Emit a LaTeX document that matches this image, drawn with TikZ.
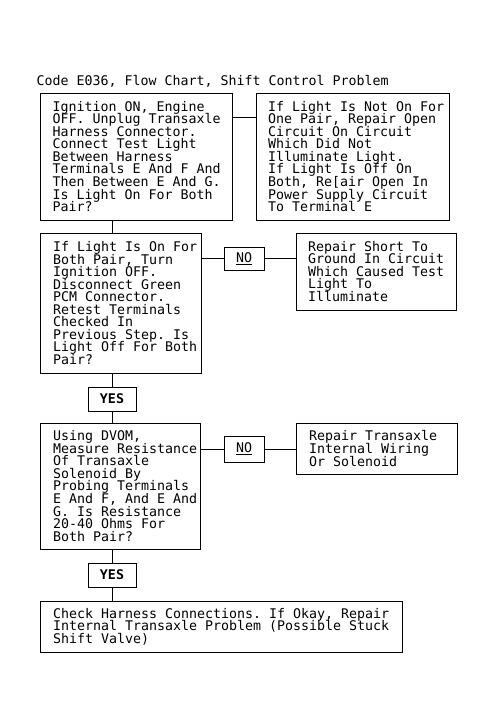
\documentclass[tikz,border=0pt]{standalone}
\usepackage{fontspec}
\setmainfont{DejaVu Sans Mono}
\usetikzlibrary{calc}
\frenchspacing
\newcommand\bxt[3]{\makebox[#1][l]{\hspace{#2}\parbox[c]{\dimexpr#1-#2\relax}{\raggedright\frenchspacing\lineskiplimit=-\maxdimen\baselineskip=9.4pt #3}}}
\begin{document}
\begin{tikzpicture}[x=0.75pt,y=-0.75pt,line width=0.75pt,
  every node/.style={font=\fontsize{9.97}{9.4}\selectfont},
  box/.style={draw,rectangle,inner sep=0pt},
  tag/.style={draw,rectangle,inner sep=0pt,minimum width=30pt},
  link/.style={draw,line width=0.75pt}]
\fill[white] (0,0) rectangle (495,728);
\useasboundingbox (0,0) rectangle (495,728);

\node[anchor=base west,inner sep=0pt] (title) at (36,85) {Code E036, Flow Chart, Shift Control Problem};

\node[box,minimum width=144pt,minimum height=95.25pt] (box1) at (136.5,156.5)
 {\bxt{144pt}{9pt}{Ignition ON, Engine\\OFF. Unplug Transaxle\\Harness Connector.\\Connect Test Light\\Between Harness\\Terminals E And F And\\Then Between E And G.\\Is Light On For Both\\Pair?}};

\node[box,minimum width=144.75pt,minimum height=95.25pt] (box2) at (352.5,156.5)
 {\bxt{144.75pt}{9pt}{If Light Is Not On For\\One Pair, Repair Open\\Circuit On Circuit\\Which Did Not\\Illuminate Light.\\If Light Is Off On\\Both, Re[air Open In\\Power Supply Circuit\\To Terminal E}};

\node[box,minimum width=120.375pt,minimum height=105pt] (box3) at (120.75,303)
 {\bxt{120.375pt}{9.375pt}{If Light Is On For\\Both Pair, Turn\\Ignition OFF.\\Disconnect Green\\PCM Connector.\\Retest Terminals\\Checked In\\Previous Step. Is\\Light Off For Both\\Pair?}};

\node[tag,minimum height=17.25pt] (no1) at (244,258.5) {\underline{NO}};

\node[box,minimum width=120pt,minimum height=57.75pt] (box4) at (376,271.5)
 {\bxt{120pt}{9pt}{Repair Short To\\Ground In Circuit\\Which Caused Test\\Light To\\Illuminate}};

\node[tag,minimum width=36pt,minimum height=18pt] (yes1) at (112,399) {\textbf{YES}};

\node[box,minimum width=119.625pt,minimum height=94.5pt] (box5) at (120.25,486)
 {\bxt{119.625pt}{9.375pt}{Using DVOM,\\Measure Resistance\\Of Transaxle\\Solenoid By\\Probing Terminals\\E And F, And E And\\G. Is Resistance\\20-40 Ohms For\\Both Pair?}};

\node[tag,minimum height=19.5pt] (no2) at (244,449) {\underline{NO}};

\node[box,minimum width=120.75pt,minimum height=38.25pt] (box6) at (376.5,448.5)
 {\bxt{120.75pt}{9.75pt}{Repair Transaxle\\Internal Wiring\\Or Solenoid}};

\node[tag,minimum width=36pt,minimum height=18pt] (yes2) at (112,575) {\textbf{YES}};

\node[box,minimum width=271.125pt,minimum height=38.25pt] (box7) at (221.25,626.5)
 {\bxt{271.125pt}{9.375pt}{Check Harness Connections. If Okay, Repair\\Internal Transaxle Problem (Possible Stuck\\Shift Valve)}};

\draw[link] ($(box1.north east)+(0,25)$) -- ($(box2.north west)+(0,25)$);
\draw[link] (yes1 |- box1.south) -- (yes1 |- box3.north);
\draw[link] (no1.west -| box3.east) -- (no1.west);
\draw[link] (no1.east) -- (no1.east -| box4.west);
\draw[link] (yes1 |- box3.south) -- (yes1.north);
\draw[link] (yes1.south) -- (yes1 |- box5.north);
\draw[link] (no2.west -| box5.east) -- (no2.west);
\draw[link] (no2.east) -- (no2.east -| box6.west);
\draw[link] (yes2 |- box5.south) -- (yes2.north);
\draw[link] (yes2.south) -- (yes2 |- box7.north);
\end{tikzpicture}
\end{document}
